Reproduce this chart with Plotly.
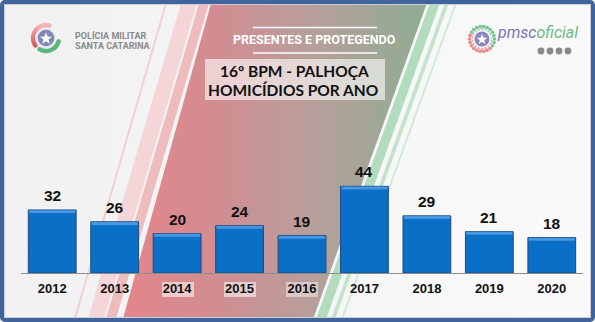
import math, base64
import plotly.graph_objects as go

# ---------------- data ----------------
years = ["2012", "2013", "2014", "2015", "2016", "2017", "2018", "2019", "2020"]
homicides = [32, 26, 20, 24, 19, 44, 29, 21, 18]
title_text = "PRESENTES E PROTEGENDO"
subtitle_1 = "16º BPM - PALHOÇA"
subtitle_2 = "HOMICÍDIOS POR ANO"

W, H = 595, 322
ML, MR, MT, MB = 21, 12, 100, 49
PW, PH = W - ML - MR, H - MT - MB
BASE_Y = H - MB


def ax(x):
    return (x - ML) / PW


def ay(y):
    return (BASE_Y - y) / PH


def star(cx, cy, r, ri=None):
    ri = ri if ri else r * 0.42
    pts = []
    for i in range(10):
        a = math.radians(-90 + i * 36)
        rr = r if i % 2 == 0 else ri
        pts.append(f"{cx + rr * math.cos(a):.2f},{cy + rr * math.sin(a):.2f}")
    return " ".join(pts)


def arc(cx, cy, r, a0, a1):
    x0 = cx + r * math.cos(math.radians(a0)); y0 = cy - r * math.sin(math.radians(a0))
    x1 = cx + r * math.cos(math.radians(a1)); y1 = cy - r * math.sin(math.radians(a1))
    large = 1 if (a1 - a0) % 360 > 180 else 0
    return f"M{x0:.2f},{y0:.2f} A{r},{r} 0 {large} 0 {x1:.2f},{y1:.2f}"


dots = []
for i in range(22):
    a = i * 360 / 22
    col = "#e58a8a" if 150 <= a <= 320 else "#7cc394"
    x = 482 + 12.5 * math.cos(math.radians(a)); y = 39 - 12.5 * math.sin(math.radians(a))
    dots.append(f'<circle cx="{x:.2f}" cy="{y:.2f}" r="1.8" fill="{col}"/>')
for i in range(18):
    a = i * 20 + 10
    col = "#eaa0a0" if 140 <= a <= 330 else "#9fd3ae"
    x = 482 + 9.8 * math.cos(math.radians(a)); y = 39 - 9.8 * math.sin(math.radians(a))
    dots.append(f'<circle cx="{x:.2f}" cy="{y:.2f}" r="1.1" fill="{col}"/>')

svg = f'''<svg xmlns="http://www.w3.org/2000/svg" width="{W}" height="{H}" viewBox="0 0 {W} {H}">
<defs>
<linearGradient id="bg" x1="0" y1="0" x2="{W}" y2="0" gradientUnits="userSpaceOnUse">
<stop offset="0" stop-color="#f1f1f1"/><stop offset="1" stop-color="#fafafa"/></linearGradient>
<linearGradient id="band" x1="125" y1="0" x2="430" y2="0" gradientUnits="userSpaceOnUse">
<stop offset="0" stop-color="#e2868b"/><stop offset="0.3" stop-color="#d28d92"/>
<stop offset="0.62" stop-color="#b69f9b"/><stop offset="1" stop-color="#8dad92"/></linearGradient>
<linearGradient id="red" x1="0" y1="0" x2="0" y2="1"><stop offset="0" stop-color="#f3b5b5"/><stop offset="1" stop-color="#e0555a"/></linearGradient>
</defs>
<rect width="{W}" height="{H}" fill="url(#bg)"/>
<polygon points="166,0 168,0 75,322 73,322" fill="#f1cfd1"/>
<polygon points="182,0 198,0 103,322 87,322" fill="#f4d6d8"/>
<polygon points="200,0 210,0 115,322 105,322" fill="#eebcbf"/>
<polygon points="212,0 428,0 312,322 122,322" fill="url(#band)"/>
<polygon points="431,0 441,0 325,322 315,322" fill="#b3dbbd"/>
<polygon points="446,0 450,0 334,322 330,322" fill="#c3e4cb"/>
<polygon points="456,0 458,0 342,322 340,322" fill="#d0ead6"/>
<rect x="205" y="59" width="180" height="41" fill="#ffffff" fill-opacity="0.6"/>
<line x1="253" y1="27.5" x2="377" y2="27.5" stroke="#ffffff" stroke-width="1.5"/>
<line x1="253" y1="53" x2="377" y2="53" stroke="#ffffff" stroke-width="1.5"/>
<rect x="162" y="282" width="32" height="15" fill="#ffffff" fill-opacity="0.55"/>
<rect x="224" y="282" width="32" height="15" fill="#ffffff" fill-opacity="0.55"/>
<rect x="286" y="282" width="32" height="15" fill="#ffffff" fill-opacity="0.45"/>
<path d="{arc(46, 38, 13, 75, 215)}" fill="none" stroke="url(#red)" stroke-width="4.5" stroke-linecap="round"/>
<path d="{arc(46, 38, 13, 240, 345)}" fill="none" stroke="#5cb87a" stroke-width="4.5" stroke-linecap="round"/>
<circle cx="46" cy="38" r="10" fill="#e9e9ef"/>
<circle cx="46" cy="38" r="8.3" fill="#7f87b9"/>
<polygon points="{star(46, 38.6, 6.3)}" fill="#ffffff"/>
{''.join(dots)}
<circle cx="482" cy="39" r="7.5" fill="#8b86c2"/>
<polygon points="{star(482, 39.5, 5.6)}" fill="#ffffff"/>
<circle cx="541" cy="51" r="3.4" fill="#8a8a8a"/>
<circle cx="550" cy="51" r="3.4" fill="#8a8a8a"/>
<circle cx="559" cy="51" r="3.4" fill="#8a8a8a"/>
<circle cx="568" cy="51" r="3.4" fill="#8a8a8a"/>
<rect x="2" y="2" width="591" height="318" rx="3" fill="none" stroke="#40649e" stroke-width="4"/>
<rect x="4.5" y="4.5" width="586" height="313" fill="none" stroke="#c9ced8" stroke-width="1"/>
</svg>'''
svg_uri = "data:image/svg+xml;base64," + base64.b64encode(svg.encode("utf-8")).decode()

fig = go.Figure()
fig.add_trace(go.Bar(
    x=years, y=homicides, width=0.765,
    marker=dict(color="#0a6fc6", line=dict(color="#1b4a85", width=1)),
    hoverinfo="skip",
))
fig.add_trace(go.Bar(
    x=years, y=[1.5] * len(homicides), base=[v - 1.6 for v in homicides], width=0.74,
    marker=dict(color="rgba(95,170,238,0.7)", line=dict(width=0)),
    hoverinfo="skip",
))

annotations = []
for i, v in enumerate(homicides):
    annotations.append(dict(x=i, y=v, xref="x", yref="y", text=str(v), showarrow=False,
                            yanchor="bottom", yshift=4,
                            font=dict(family="Liberation Sans, Arial", size=15.5, color="#111111", weight="bold")))

annotations += [
    dict(x=ax(314), y=ay(40), xref="paper", yref="paper", text=title_text, showarrow=False,
         xanchor="center", yanchor="middle",
         font=dict(family="Roboto, Liberation Sans", size=12.5, color="#ffffff", weight="bold")),
    dict(x=ax(294), y=ay(71), xref="paper", yref="paper", text=subtitle_1, showarrow=False,
         xanchor="center", yanchor="middle",
         font=dict(family="Lato, Open Sans", size=15.5, color="#111111", weight="bold")),
    dict(x=ax(293), y=ay(90), xref="paper", yref="paper", text=subtitle_2, showarrow=False,
         xanchor="center", yanchor="middle",
         font=dict(family="Lato, Open Sans", size=15.5, color="#111111", weight="bold")),
    dict(x=ax(73), y=ay(35.5), xref="paper", yref="paper", text="POLÍCIA MILITAR", showarrow=False,
         xanchor="left", yanchor="middle",
         font=dict(family="Roboto, Open Sans", size=9, color="#8a8a8a", weight="bold")),
    dict(x=ax(73), y=ay(46.5), xref="paper", yref="paper", text="SANTA CATARINA", showarrow=False,
         xanchor="left", yanchor="middle",
         font=dict(family="Roboto, Open Sans", size=9, color="#8a8a8a", weight="bold")),
    dict(x=ax(495), y=ay(32), xref="paper", yref="paper",
         text='<i><span style="color:#7d73b8">pmsc</span><span style="color:#6cbb84">oficial</span></i>',
         showarrow=False, xanchor="left", yanchor="middle",
         font=dict(family="Roboto, Liberation Sans", size=16)),
]

fig.update_layout(
    width=W, height=H,
    margin=dict(l=ML, r=MR, t=MT, b=MB, pad=0),
    paper_bgcolor="#f5f5f5", plot_bgcolor="rgba(0,0,0,0)",
    barmode="overlay", showlegend=False,
    images=[dict(source=svg_uri, xref="paper", yref="paper", x=ax(0), y=ay(0),
                 sizex=W / PW, sizey=H / PH, sizing="stretch", xanchor="left", yanchor="top",
                 layer="below")],
    annotations=annotations,
    xaxis=dict(type="category", range=[-0.5, len(years) - 0.5], showgrid=False, zeroline=False,
               showline=True, linecolor="#8c8c8c", linewidth=1, ticks="", ticklabelstandoff=3,
               tickfont=dict(family="Liberation Sans, Arial", size=13, color="#111111", weight="bold")),
    yaxis=dict(range=[0, PH / 1.97], visible=False, showgrid=False, zeroline=False),
)
fig.write_html("out.html")
